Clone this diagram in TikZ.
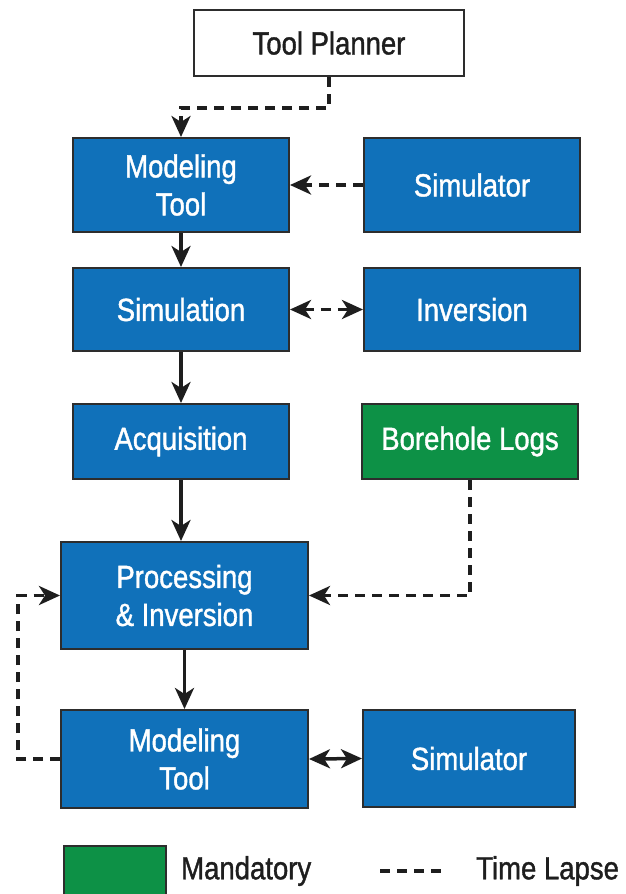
\documentclass[tikz,border=0pt]{standalone}
\usepackage{fontspec}
\setmainfont{Liberation Sans}[FakeStretch=0.86,FakeBold=1.2]
\usetikzlibrary{arrows.meta}
\definecolor{boxblue}{RGB}{16,113,186}
\definecolor{boxgreen}{RGB}{13,145,70}
\definecolor{edgecol}{RGB}{45,45,45}
\definecolor{inkcol}{RGB}{30,30,30}
\begin{document}
\begin{tikzpicture}[x=1pt,y=-1pt,
  blockbox/.style={draw=edgecol, line width=2pt, fill=boxblue, text=white,
    inner sep=0pt, align=center, font=\fontsize{32}{38}\selectfont},
  greenbox/.style={blockbox, fill=boxgreen},
  whitebox/.style={blockbox, fill=white, text=inkcol},
  solidarrow/.style={draw=inkcol, line width=3.5pt, -{Stealth[length=21pt,width=19pt,inset=6pt]}},
  solidboth/.style={draw=inkcol, line width=3.5pt, {Stealth[length=21pt,width=19pt,inset=6pt]}-{Stealth[length=21pt,width=19pt,inset=6pt]}},
  dasharrow/.style={draw=inkcol, line width=3.5pt, dash pattern=on 10pt off 7pt, -{Stealth[length=21pt,width=19pt,inset=6pt]}},
  dashboth/.style={draw=inkcol, line width=3.5pt, dash pattern=on 10pt off 7pt, {Stealth[length=21pt,width=19pt,inset=6pt]}-{Stealth[length=21pt,width=19pt,inset=6pt]}},
  legendtext/.style={text=inkcol, font=\fontsize{32}{38}\selectfont, anchor=west, inner sep=0pt}
]
\useasboundingbox (0,0) rectangle (625,894);
\clip (0,0) rectangle (625,894);

\node[whitebox, minimum width=270pt, minimum height=66pt] (planner) at (329,43) {Tool Planner};
\node[blockbox, minimum width=216pt, minimum height=94pt] (mt1) at (181,185) {Modeling\\Tool};
\node[blockbox, minimum width=216pt, minimum height=94pt] (sim1) at (472,185) {Simulator};
\node[blockbox, minimum width=216pt, minimum height=83pt] (simu) at (181,309.5) {Simulation};
\node[blockbox, minimum width=216pt, minimum height=83pt] (inv) at (472,309.5) {Inversion};
\node[blockbox, minimum width=216pt, minimum height=75pt] (acq) at (181,441.5) {Acquisition};
\node[greenbox, minimum width=216pt, minimum height=75pt] (bore) at (470,441.5) {Borehole Logs};
\node[blockbox, minimum width=247pt, minimum height=107pt] (proc) at (184.5,595.5) {Processing\\\& Inversion};
\node[blockbox, minimum width=247pt, minimum height=98pt] (mt2) at (184.5,759) {Modeling\\Tool};
\node[blockbox, minimum width=212pt, minimum height=97pt] (sim2) at (469,758.5) {Simulator};

% connectors
\coordinate (pl1) at (planner.south |- 0,108);
\coordinate (pl2) at (mt1.north |- 0,108);
\draw[dasharrow] (planner.south) -- (pl1) -- (pl2) -- (mt1.north);
\draw[dasharrow] (sim1.west) -- (mt1.east);
\draw[solidarrow] (mt1.south) -- (simu.north);
\draw[dashboth] (simu.east) -- (inv.west);
\draw[solidarrow] (simu.south) -- (acq.north);
\draw[solidarrow] (acq.south) -- (acq.south |- proc.north);
\coordinate (bl1) at (bore.south |- proc.east);
\draw[dasharrow] (bore.south) -- (bl1) -- (proc.east);
\draw[solidarrow] (mt2.north |- proc.south) -- (mt2.north);
\coordinate (lp1) at (18,759);
\coordinate (lp2) at (18,595.5);
\draw[dasharrow] (mt2.west) -- (lp1) -- (lp2) -- (proc.west);
\draw[solidboth] (mt2.east) -- (sim2.west);

% legend
\node[greenbox, minimum width=102pt, minimum height=56pt] (legbox) at (115,874) {};
\node[legendtext] (legmand) at (181,871) {Mandatory};
\coordinate (ld1) at (380,871);
\coordinate (ld2) at (446,871);
\draw[draw=inkcol, line width=3.5pt, dash pattern=on 10pt off 7pt] (ld1) -- (ld2);
\node[legendtext] (legtime) at (476,871) {Time Lapse};
\end{tikzpicture}
\end{document}
